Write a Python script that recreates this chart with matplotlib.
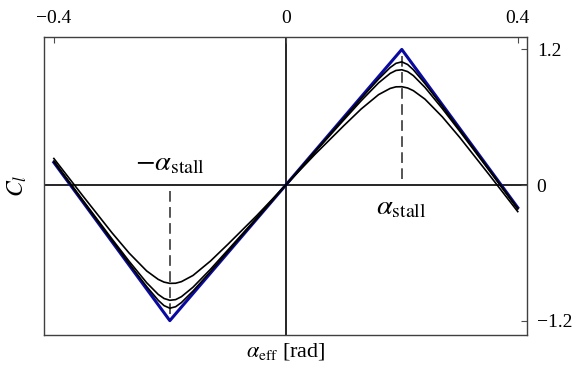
import matplotlib
matplotlib.use("Agg")
import matplotlib.pyplot as plt

plt.rcParams['font.family'] = 'Liberation Serif'
plt.rcParams['mathtext.fontset'] = 'stix'

# piecewise-linear lift curve (blue)
x_lin = [-0.4, -0.2, 0.2, 0.4]
cl_lin = [0.2, -1.2, 1.2, -0.2]

# smoothed lift curves (black)
x_s = [-0.4, -0.35, -0.3, -0.27, -0.24, -0.22, -0.21, -0.2, -0.19, -0.18, -0.16, -0.13, -0.1, -0.05, 0.0,
       0.05, 0.1, 0.13, 0.16, 0.18, 0.19, 0.2, 0.21, 0.22, 0.24, 0.27, 0.3, 0.35, 0.4]
cl_low = [0.235, -0.096, -0.421, -0.603, -0.76, -0.835, -0.859, -0.87, -0.869, -0.855, -0.80, -0.673, -0.525, -0.27, 0.0,
          0.27, 0.525, 0.673, 0.80, 0.855, 0.869, 0.87, 0.859, 0.835, 0.76, 0.603, 0.421, 0.096, -0.235]
cl_mid = [0.212, -0.134, -0.476, -0.676, -0.864, -0.968, -1.004, -1.02, -1.014, -0.988, -0.904, -0.746, -0.576, -0.29, 0.0,
          0.29, 0.576, 0.746, 0.904, 0.988, 1.014, 1.02, 1.004, 0.968, 0.864, 0.676, 0.476, 0.134, -0.212]
cl_top = [0.205, -0.144, -0.491, -0.697, -0.898, -1.02, -1.067, -1.09, -1.077, -1.04, -0.938, -0.767, -0.591, -0.297, 0.0,
          0.297, 0.591, 0.767, 0.938, 1.04, 1.077, 1.09, 1.067, 1.02, 0.898, 0.697, 0.491, 0.144, -0.205]

a_stall = 0.2

fig = plt.figure(figsize=(5.85, 3.73), dpi=100)
ax = fig.add_axes([0.0752, 0.1019, 0.8257, 0.7989])

ax.axhline(0, color='black', lw=1.2, zorder=1)
ax.axvline(0, color='black', lw=1.2, zorder=1)
ax.plot([a_stall, a_stall], [0.05, 1.2], color='0.15', lw=1.1, ls=(0, (7, 3.5)), zorder=1)
ax.plot([-a_stall, -a_stall], [-0.05, -1.2], color='0.15', lw=1.1, ls=(0, (7, 3.5)), zorder=1)

ax.plot(x_lin, cl_lin, color='#0a0aa0', lw=2.2, zorder=2)
for cl in (cl_low, cl_mid, cl_top):
    ax.plot(x_s, cl, color='black', lw=1.2, zorder=3)

ax.text(-a_stall, 0.19, r'$-\alpha_{\rm stall}$', ha='center', va='center', fontsize=20.5)
ax.text(a_stall, -0.2, r'$\alpha_{\rm stall}$', ha='center', va='center', fontsize=20.5)

ax.set_xlim(-0.417, 0.416)
ax.set_ylim(-1.327, 1.31)

ax.xaxis.tick_top()
ax.yaxis.tick_right()
ax.set_xticks([-0.4, 0, 0.4])
ax.set_xticklabels(['\u22120.4', '0', '0.4'])
ax.set_yticks([-1.2, 0, 1.2])
ax.set_yticklabels(['\u22121.2', '0', '1.2'])
ax.tick_params(direction='in', length=4, width=0.8, labelsize=14, pad=7, color='0.3')

for sp in ax.spines.values():
    sp.set_color('0.25')
    sp.set_linewidth(1.0)

ax.set_xlabel(r'$\alpha_{\rm eff}$ [rad]', fontsize=16, labelpad=4)
ax.set_ylabel(r'$C_l$', fontsize=17, labelpad=11)
ax.yaxis.set_label_position('left')

fig.savefig('out.png', dpi=100)
